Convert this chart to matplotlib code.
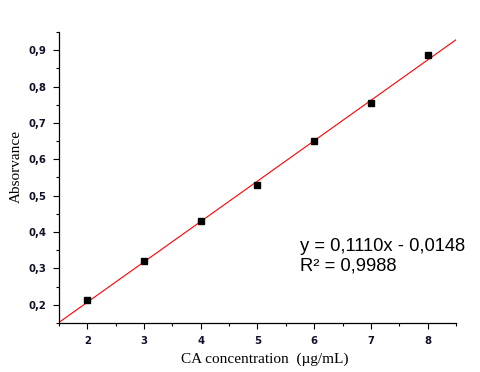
import matplotlib.pyplot as plt
import numpy as np
from matplotlib.ticker import MultipleLocator, FuncFormatter

# data
conc = np.array([2, 3, 4, 5, 6, 7, 8])
absorb = np.array([0.214, 0.321, 0.430, 0.529, 0.650, 0.756, 0.886])

slope = 0.1110
intercept = -0.0148
x_fit = np.array([1.5, 8.5])

fig = plt.figure(figsize=(4.8, 3.72), dpi=100)
ax = fig.add_axes([0.1229, 0.1317, 0.8271, 0.7823])

ax.plot(x_fit, slope * x_fit + intercept, color='red', linewidth=0.8)
ax.plot(conc, absorb, linestyle='none', marker='s', markersize=4,
        color='black')

ax.set_xlim(1.5, 8.5)
ax.set_ylim(0.15, 0.95)

ax.spines['top'].set_visible(False)
ax.spines['right'].set_visible(False)
for s in ['left', 'bottom']:
    ax.spines[s].set_linewidth(0.9)

ax.xaxis.set_major_locator(MultipleLocator(1))
ax.xaxis.set_minor_locator(MultipleLocator(0.5))
ax.yaxis.set_major_locator(MultipleLocator(0.1))
ax.yaxis.set_minor_locator(MultipleLocator(0.05))
ax.yaxis.set_major_formatter(FuncFormatter(lambda v, p: f"{v:.1f}".replace('.', ',')))

ax.tick_params(which='major', direction='out', length=4.2, width=0.8,
               labelsize=7.3, pad=5)
ax.tick_params(which='minor', direction='out', length=2.3, width=0.8)
for lab in ax.get_xticklabels() + ax.get_yticklabels():
    lab.set_fontweight('bold')
    lab.set_color('#101028')

ax.set_xlabel('CA concentration  (\u00b5g/mL)', fontfamily='Liberation Serif',
              fontsize=11)
ax.set_ylabel('Absorvance', fontfamily='Liberation Serif', fontsize=11)
ax.xaxis.set_label_coords(0.519, -0.10)
ax.yaxis.set_label_coords(-0.091, 0.538)

ax.text(0.607, 0.247, 'y = 0,1110x - 0,0148', transform=ax.transAxes,
        fontfamily='Liberation Sans', fontsize=13.2, va='baseline')
ax.text(0.607, 0.182, 'R\u00b2 = 0,9988', transform=ax.transAxes,
        fontfamily='Liberation Sans', fontsize=13.2, va='baseline')

fig.savefig('out.png', dpi=100)
